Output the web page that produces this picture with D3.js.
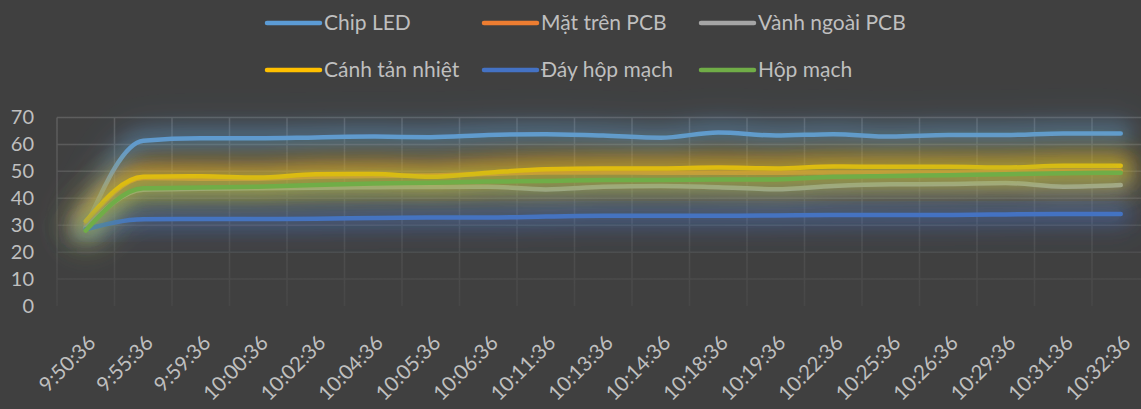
<!DOCTYPE html>
<html>
<head>
<meta charset="utf-8">
<script src="https://cdn.jsdelivr.net/npm/d3@7"></script>
<style>
  body { margin: 0; background: #404040; }
  text { font-family: Lato, "Open Sans", sans-serif; fill: #bfbfbf; }
</style>
</head>
<body>
<script>
const w = 1141;
const h = 409;

// data
const times = ["9:50:36", "9:55:36", "9:59:36", "10:00:36", "10:02:36", "10:04:36", "10:05:36",
  "10:06:36", "10:11:36", "10:13:36", "10:14:36", "10:18:36", "10:19:36", "10:22:36",
  "10:25:36", "10:26:36", "10:29:36", "10:31:36", "10:32:36"];
const seriesNames = ["Chip LED", "Mặt trên PCB", "Vành ngoài PCB", "Cánh tản nhiệt", "Đáy hộp mạch", "Hộp mạch"];
const chipLed = [29.5, 61.4, 62.3, 62.3, 62.6, 62.9, 62.7, 63.5, 63.8, 63.3, 62.5, 64.4, 63.3, 63.8, 62.9, 63.5, 63.5, 64.1, 64.1];
const matTren = [30.5, 47.5, 47.3, 47.3, 48.0, 48.3, 48.5, 49.0, 49.6, 49.6, 49.5, 49.5, 49.5, 49.6, 49.6, 49.6, 49.8, 50.2, 50.2];
const vanhNgoai = [29, 43.2, 43.5, 43.7, 43.9, 44.1, 44.2, 44.3, 43.3, 44.3, 44.6, 44.1, 43.4, 44.6, 45.2, 45.3, 45.7, 44.3, 44.9];
const canhTan = [31.5, 48.0, 48.2, 47.7, 48.9, 49.0, 48.0, 49.5, 50.8, 51.1, 51.1, 51.4, 51.1, 51.8, 51.7, 51.7, 51.4, 52.1, 52.1];
const dayHop = [28.5, 32.2, 32.3, 32.3, 32.4, 32.7, 32.9, 32.9, 33.2, 33.5, 33.5, 33.5, 33.6, 33.8, 33.8, 33.8, 34.0, 34.2, 34.2];
const hopMach = [28, 43.7, 44.0, 44.3, 44.9, 45.5, 45.8, 46.2, 46.4, 46.8, 46.8, 47.0, 47.0, 48.0, 48.3, 48.6, 48.9, 49.3, 49.5];
const yTicks = [0, 10, 20, 30, 40, 50, 60, 70];

const colors = ["#5b9bd5", "#ed7d31", "#a5a5a5", "#ffc000", "#4472c4", "#70ad47"];
const allValues = [chipLed, matTren, vanhNgoai, canhTan, dayHop, hopMach];

const series = seriesNames.map((name, i) => ({
  name: name,
  color: colors[i],
  values: allValues[i]
}));

const svg = d3.select("body").append("svg").attr("width", w).attr("height", h);

const plotLeft = 57, plotTop = 117.5, plotBottom = 306;

// scales
const xScale = d3.scaleBand().domain(times).range([plotLeft, plotLeft + 57.5 * times.length]);
const xPos = (d) => xScale(d) + xScale.bandwidth() / 2;
const yScale = d3.scaleLinear().domain([0, 70]).range([plotBottom, plotTop]);

const defs = svg.append("defs");
const grad = defs.append("linearGradient")
  .attr("id", "gridGrad")
  .attr("gradientUnits", "userSpaceOnUse")
  .attr("x1", 0).attr("y1", plotTop).attr("x2", 0).attr("y2", plotBottom);
grad.append("stop").attr("offset", 0).attr("stop-color", "#5e5e5e");
grad.append("stop").attr("offset", 1).attr("stop-color", "#474747");

defs.append("filter")
  .attr("id", "glow")
  .attr("x", "-20%").attr("y", "-80%").attr("width", "140%").attr("height", "260%")
  .append("feGaussianBlur")
  .attr("stdDeviation", 9);
defs.append("filter")
  .attr("id", "haze")
  .attr("x", "-20%").attr("y", "-150%").attr("width", "140%").attr("height", "400%")
  .append("feGaussianBlur")
  .attr("stdDeviation", 16);

//gridlines
const grid = svg.append("g").attr("stroke", "url(#gridGrad)").attr("stroke-width", 1.5);
grid.selectAll(".hgrid")
  .data(yTicks.filter((d) => d > 0))
  .enter()
  .append("line")
  .attr("x1", plotLeft)
  .attr("x2", w)
  .attr("y1", (d) => yScale(d))
  .attr("y2", (d) => yScale(d));
grid.selectAll(".vgrid")
  .data(times)
  .enter()
  .append("line")
  .attr("x1", (d) => xScale(d))
  .attr("x2", (d) => xScale(d))
  .attr("y1", plotTop)
  .attr("y2", plotBottom);

// y axis
const yAxis = d3.axisLeft(yScale).tickValues(yTicks).tickSize(0).tickPadding(0);
const yG = svg.append("g").attr("transform", "translate(34,0)").call(yAxis);
yG.select(".domain").remove();
yG.selectAll("text").style("font-size", "20px").attr("fill", "#bfbfbf").style("font-family", "Lato");

// x axis labels
svg.append("g")
  .selectAll("text")
  .data(times)
  .enter()
  .append("text")
  .attr("transform", (d) => "translate(" + (xPos(d) + 6) + ",339) rotate(-45)")
  .attr("text-anchor", "end")
  .attr("dy", "0.35em")
  .style("font-size", "20.5px")
  .text((d) => d);

// lines
const line = d3.line()
  .x((d, i) => xPos(times[i]))
  .y((d) => yScale(d))
  .curve(d3.curveMonotoneX);

series.forEach((s) => {
  svg.append("path")
    .attr("d", line(s.values))
    .attr("fill", "none")
    .attr("stroke", s.color)
    .attr("stroke-width", 40)
    .attr("stroke-opacity", 0.12)
    .attr("stroke-linecap", "round")
    .attr("filter", "url(#haze)");
  svg.append("path")
    .attr("d", line(s.values))
    .attr("fill", "none")
    .attr("stroke", s.color)
    .attr("stroke-width", 20)
    .attr("stroke-opacity", 0.38)
    .attr("stroke-linecap", "round")
    .attr("filter", "url(#glow)");
  svg.append("path")
    .attr("d", line(s.values))
    .attr("fill", "none")
    .attr("stroke", s.color)
    .attr("stroke-width", 4.5)
    .attr("stroke-linecap", "round")
    .attr("stroke-linejoin", "round");
});

//legend
const legend = svg.append("g")
  .selectAll("g")
  .data(series)
  .enter()
  .append("g")
  .attr("transform", (d, i) => "translate(" + (267 + (i % 3) * 217) + "," + (i < 3 ? 23 : 70) + ")");
legend.append("line")
  .attr("x1", 0).attr("x2", 53)
  .attr("stroke", (d) => d.color)
  .attr("stroke-width", 4.5)
  .attr("stroke-linecap", "round");
legend.append("text")
  .attr("x", 57)
  .attr("dy", "0.35em")
  .style("font-size", "21px")
  .text((d) => d.name);
</script>
</body>
</html>
